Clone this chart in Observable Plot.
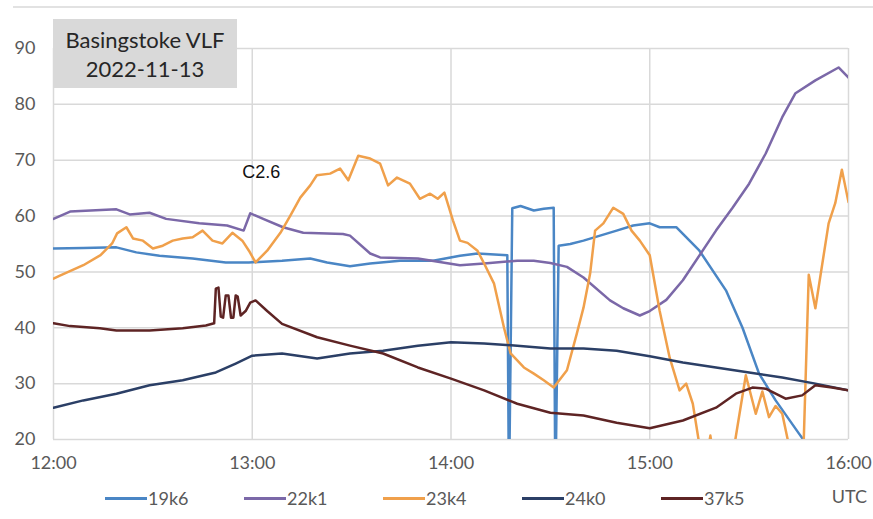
<!DOCTYPE html>
<html>
<head>
<meta charset="utf-8">
<script src="https://cdn.jsdelivr.net/npm/d3@7"></script>
<script src="https://cdn.jsdelivr.net/npm/@observablehq/plot@0.6"></script>
<style>
  body { margin: 0; background: #fff; font-family: Lato, "Open Sans", sans-serif; }
  #wrap { position: relative; width: 873px; height: 519px; overflow: hidden; background: #fff; }
  #topline { position: absolute; left: 13px; right: 0; top: 6px; border-top: 2px solid #e2e2e2; }
  #title { position: absolute; left: 53px; top: 19px; width: 184px; height: 69px; background: #d9d9d9;
           color: #262626; font-size: 22px; line-height: 29px; text-align: center;
           display: flex; flex-direction: column; justify-content: center; }
  #legend { position: absolute; top: 480px; left: 105px; height: 36px; display: flex; align-items: center; }
  .item { width: 139px; display: flex; align-items: center; font-size: 18px; color: #595959; }
  .sw { display: inline-block; width: 42px; height: 3px; margin-right: 1px; }
  #utc { position: absolute; right: 6px; top: 485px; font-size: 18px; color: #595959; }
  #chart { position: absolute; left: 0; top: 0; }
</style>
</head>
<body>
<div id="wrap">
  <div id="chart"></div>
  <div id="topline"></div>
  <div id="title"><div>Basingstoke VLF</div><div>2022-11-13</div></div>
  <div id="legend"></div>
  <div id="utc">UTC</div>
</div>
<script>
// Series names and colours
const seriesNames = ["19k6", "22k1", "23k4", "24k0", "37k5"];
const seriesColors = ["#4a86c5", "#7b68a8", "#f0a04b", "#2b3f66", "#5e2424"];

// Time in minutes after 12:00 UTC
const t19k6 = [0, 9, 19, 25, 32, 42, 52, 59, 69, 77.5, 82.6, 89.5, 95.6, 104.6, 114.6, 122.7, 128, 137, 137.5, 138.5, 141, 145, 148, 151, 151.5, 152.5, 156, 160, 165, 170, 175, 180, 183, 188, 195, 203, 208, 213, 218, 225, 230];
const v19k6 = [54.2, 54.3, 54.4, 53.5, 52.9, 52.4, 51.7, 51.7, 52, 52.4, 51.7, 51, 51.5, 52, 52, 52.9, 53.3, 53, 10, 61.4, 61.8, 61, 61.3, 61.5, 10, 54.7, 55, 55.6, 56.5, 57.4, 58.3, 58.7, 58, 58, 53.8, 46.7, 40, 31.8, 27, 21.1, 17];

const t22k1 = [0, 5, 19, 23, 29, 34, 44, 52.4, 57.4, 59.4, 63.3, 69.3, 75.4, 87.4, 89.5, 95.6, 98.6, 110, 122.7, 130, 140, 145, 150, 155, 160, 168, 172, 177, 180, 185, 190, 200, 205, 210, 215, 220, 224, 230, 237, 240];
const v22k1 = [59.5, 60.8, 61.2, 60.3, 60.6, 59.5, 58.7, 58.3, 57.4, 60.5, 59.5, 58, 57, 56.8, 56.5, 53.3, 52.6, 52.4, 51.2, 51.5, 52, 52, 51.6, 50.9, 49, 44.9, 43.5, 42.2, 43, 45, 48.5, 57.4, 61.5, 65.8, 71.2, 77.7, 82, 84.3, 86.6, 84.8];

const t23k4 = [0, 2.1, 9, 14.2, 17.7, 19.2, 22, 24, 27, 30, 33, 36, 39, 42, 45, 48, 51, 54, 57, 59, 61, 64.5, 68.5, 71.5, 74.5, 77.5, 79.5, 83.5, 86.5, 89, 92, 95.6, 98.6, 101, 103.7, 107.6, 110.6, 113.7, 116, 118, 120.6, 122.7, 125, 128, 130, 133, 136, 138, 142, 145, 148, 151, 155, 158, 160, 162, 163.5, 166, 169, 172, 174.5, 177, 180, 183, 186, 189, 191, 193, 195, 196.5, 198.3, 200, 204, 205.7, 209, 212, 214, 216, 218, 220, 222, 223.5, 225.5, 226.5, 228, 230, 234, 236, 238, 240];
const v23k4 = [48.8, 49.4, 51.2, 53, 55.1, 56.9, 58, 56, 55.6, 54.2, 54.7, 55.6, 56, 56.2, 57.4, 55.6, 55.1, 57, 55.6, 53.8, 51.7, 53.8, 57, 60.1, 63.3, 65.5, 67.3, 67.6, 68.5, 66.4, 70.8, 70.3, 69.4, 65.5, 66.9, 65.8, 63.1, 64, 63.1, 64.2, 59.2, 55.6, 55.2, 53.8, 51.5, 47.9, 40, 35.4, 32.9, 31.8, 30.6, 29.3, 32.4, 39, 43.6, 49.7, 57.4, 58.7, 61.5, 60.4, 57.4, 55.6, 53, 43, 34.7, 28.8, 30, 26.4, 19, 14, 20.7, 14, 14, 19.5, 31.5, 24.6, 28.6, 24, 26, 24.6, 19, 14, 14, 20, 49.5, 43.5, 58.7, 62.3, 68.3, 62.5];

const t24k0 = [0, 9, 19, 29, 39, 49, 55, 60, 69, 79.6, 89.5, 99.5, 110, 120, 130, 140, 150, 160, 170, 180, 190, 200, 210, 220, 230, 240];
const v24k0 = [25.7, 27, 28.2, 29.7, 30.6, 32, 33.6, 35, 35.4, 34.5, 35.4, 35.9, 36.8, 37.4, 37.2, 36.8, 36.3, 36.3, 35.9, 34.9, 33.8, 32.9, 32, 31.1, 30, 28.8];

const t37k5 = [0, 5, 14, 19, 29, 39, 46, 48.5, 49, 49.8, 50.5, 51.2, 52, 52.8, 53.6, 54.3, 55, 55.6, 56.5, 58, 59.4, 61, 64.5, 69, 79.6, 89.5, 99.5, 110, 120, 130, 140, 150, 160, 170, 180, 190, 200, 206, 211, 215, 218, 221, 226, 230, 235, 240];
const v37k5 = [40.8, 40.3, 39.9, 39.5, 39.5, 39.9, 40.4, 40.8, 47, 47.2, 42, 41.8, 45.8, 45.8, 41.8, 41.8, 45.8, 45.6, 42.2, 43, 44.5, 44.9, 43, 40.7, 38.3, 36.8, 35.4, 32.9, 30.9, 28.8, 26.4, 24.8, 24.3, 23, 22, 23.4, 25.7, 28.2, 29.3, 29.1, 28.2, 27.3, 27.9, 29.7, 29.3, 28.8];

// Axis ticks
const yTicks = [20, 30, 40, 50, 60, 70, 80, 90];
const xTickMinutes = [0, 60, 120, 180, 240];

// Annotation
const noteMinutes = [62.7];
const noteValues = [67.8];
const noteLabels = ["C2.6"];

const base = Date.UTC(2022, 10, 13, 12, 0);
const toDate = m => new Date(base + m * 60000);

const seriesData = [
  [t19k6, v19k6], [t22k1, v22k1], [t23k4, v23k4], [t24k0, v24k0], [t37k5, v37k5]
];
const rows = seriesData.flatMap(([t, v], k) =>
  t.map((m, i) => ({ series: seriesNames[k], time: toDate(m), value: v[i] })));
const notes = noteLabels.map((l, i) => ({ time: toDate(noteMinutes[i]), value: noteValues[i], label: l }));
const xTicks = xTickMinutes.map(toDate);

const chart = Plot.plot({
  width: 873, height: 480,
  marginLeft: 53, marginRight: 25, marginTop: 48, marginBottom: 41,
  style: { fontFamily: "Lato, 'Open Sans', sans-serif", fontSize: "18px", color: "#595959", background: "transparent", overflow: "visible" },
  x: { type: "utc", domain: [toDate(0), toDate(240)], ticks: xTicks, tickFormat: d3.utcFormat("%H:%M"), label: null, tickSize: 0, tickPadding: 17 },
  y: { domain: [20, 90], ticks: yTicks, label: null, tickSize: 0, tickPadding: 18 },
  color: { domain: seriesNames, range: seriesColors },
  marks: [
    Plot.gridX(xTicks, { stroke: "#d9d9d9", strokeOpacity: 1, strokeWidth: 1.5 }),
    Plot.gridY(yTicks, { stroke: "#d9d9d9", strokeOpacity: 1, strokeWidth: 1.5 }),
    Plot.lineY(rows, { x: "time", y: "value", z: "series", stroke: "series", strokeWidth: 2.5, clip: true }),
    Plot.text(notes, { x: "time", y: "value", text: "label", fill: "#111", fontSize: 18, fontFamily: "'Liberation Sans', Arial, sans-serif" })
  ]
});
document.getElementById("chart").appendChild(chart);

const legend = document.getElementById("legend");
seriesNames.forEach((n, i) => {
  const it = document.createElement("div");
  it.className = "item";
  const sw = document.createElement("span");
  sw.className = "sw";
  sw.style.background = seriesColors[i];
  it.appendChild(sw);
  it.appendChild(document.createTextNode(n));
  legend.appendChild(it);
});
</script>
</body>
</html>
